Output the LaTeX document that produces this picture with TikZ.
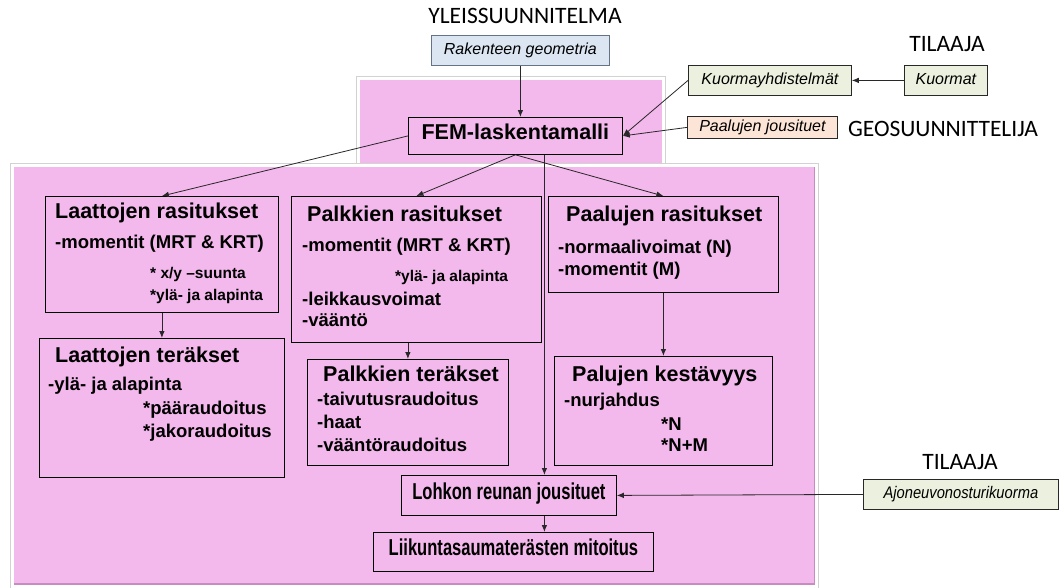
\documentclass[tikz,border=0pt]{standalone}
\usepackage{fontspec}
\usepackage{graphicx}
\setmainfont{Liberation Sans}
\newfontfamily\carlito{Carlito}
\usetikzlibrary{arrows.meta}
\definecolor{pinkbg}{RGB}{243,184,236}
\definecolor{pinkedge}{RGB}{200,140,195}
\definecolor{bluefill}{RGB}{220,230,242}
\definecolor{blueline}{RGB}{100,115,135}
\definecolor{greenfill}{RGB}{235,241,222}
\definecolor{peachfill}{RGB}{252,228,214}
\definecolor{lineclr}{RGB}{40,40,40}
\tikzset{
 box/.style={draw=black, line width=0.8pt, inner sep=0pt, anchor=north west},
 lbl/.style={inner sep=0pt, text height=0.72em, text depth=0pt},
 ttl/.style={lbl, anchor=west, font=\bfseries\fontsize{21.5}{24}\selectfont},
 bdy/.style={lbl, anchor=west, font=\bfseries\fontsize{18.5}{22}\selectfont},
 sml/.style={lbl, anchor=west, font=\bfseries\fontsize{15.5}{18}\selectfont},
 ital/.style={font=\itshape\fontsize{16}{18}\selectfont, text height=0.72em, text depth=0pt},
 hdr/.style={lbl, font=\carlito\fontsize{23.5}{26}\selectfont},
 big/.style={font=\bfseries\fontsize{21.5}{24}\selectfont, text height=0.72em, text depth=0pt},
 narrowbig/.style={font=\bfseries\fontsize{23}{26}\selectfont, text height=0.72em, text depth=0pt},
 arr/.style={draw=lineclr, line width=0.8pt, -{Latex[length=7pt,width=5.5pt]}},
 frame/.style={fill=white, draw=gray!35, line width=1pt},
}
\begin{document}
\begin{tikzpicture}[x=1pt,y=-1pt]
\useasboundingbox (0,0) rectangle (1059,587);
% upper panel
\path[frame] (356.5,76.5) rectangle (665.5,172);
\fill[pinkbg] (360,80) rectangle (662,172);
% lower panel
\path[frame] (10.5,163.5) rectangle (818.5,589);
\fill[pinkbg] (14,167) rectangle (815,585);
\draw[pinkedge, line width=1.5pt] (14,584) -- (815,584);
\draw[pinkedge, line width=1pt] (814,167) -- (814,585);

% headers
\node[hdr] (h1) at (525,20) {YLEISSUUNNITELMA};
\node[hdr] (h2) at (947,48) {TILAAJA};
\node[hdr] (h3) at (943,133) {GEOSUUNNITTELIJA};
\node[hdr] (h4) at (960,466) {TILAAJA};

% coloured input boxes
\node[box, ital, fill=bluefill, draw=blueline, minimum width=178pt, minimum height=30pt] (rak) at (431,35) {Rakenteen geometria};
\node[box, ital, fill=greenfill, draw=lineclr, minimum width=163pt, minimum height=30pt] (kuorm) at (688,65) {Kuormayhdistelmät};
\node[box, ital, fill=greenfill, draw=lineclr, minimum width=83pt, minimum height=30pt] (kuormat) at (904,65) {Kuormat};
\node[box, ital, fill=peachfill, draw=lineclr, minimum width=150pt, minimum height=22pt] (pjous) at (687,116) {Paalujen jousituet};
\node[box, ital, fill=greenfill, draw=lineclr, minimum width=195pt, minimum height=30pt] (ajo) at (863,479) {\scalebox{0.92}[1.05]{Ajoneuvonosturikuorma}};

% main boxes
\node[box, big, minimum width=214pt, minimum height=37pt] (fem) at (408,117) {FEM-laskentamalli};
\node[box, minimum width=233pt, minimum height=116pt] (laR) at (45,196) {};
\node[box, minimum width=245pt, minimum height=139pt] (laT) at (39,338) {};
\node[box, minimum width=250pt, minimum height=146pt] (paR) at (291,196) {};
\node[box, minimum width=201pt, minimum height=106pt] (paT) at (307,359) {};
\node[box, minimum width=230pt, minimum height=96pt] (pjR) at (548,196) {};
\node[box, minimum width=218pt, minimum height=109pt] (pjK) at (554,356) {};
\node[box, narrowbig, minimum width=215pt, minimum height=40pt] (lohk) at (401,475) {\scalebox{0.72}[1]{Lohkon reunan jousituet}};
\node[box, narrowbig, minimum width=280pt, minimum height=39pt] (liik) at (373,532) {\scalebox{0.72}[1]{Liikuntasaumaterästen mitoitus}};

% texts
\node[ttl] (t1) at (55,215) {Laattojen rasitukset};
\node[bdy] (t2) at (55,245) {-momentit (MRT \& KRT)};
\node[sml] (t3) at (150,275) {* x/y –suunta};
\node[sml] (t4) at (150,297) {*ylä- ja alapinta};

\node[ttl] (t5) at (55,359) {Laattojen teräkset};
\node[bdy] (t6) at (48,387) {-ylä- ja alapinta};
\node[bdy] (t7) at (143,411) {*pääraudoitus};
\node[bdy] (t8) at (143,434) {*jakoraudoitus};

\node[ttl] (t9) at (307,218) {Palkkien rasitukset};
\node[bdy] (t10) at (302,248) {-momentit (MRT \& KRT)};
\node[sml] (t11) at (395,278) {*ylä- ja alapinta};
\node[bdy] (t12) at (302,302) {-leikkausvoimat};
\node[bdy] (t13) at (302,323) {-vääntö};

\node[ttl] (t14) at (323,378) {Palkkien teräkset};
\node[bdy] (t15) at (317,402) {-taivutusraudoitus};
\node[bdy] (t16) at (317,425) {-haat};
\node[bdy] (t17) at (317,448) {-vääntöraudoitus};

\node[ttl] (t18) at (566,218) {Paalujen rasitukset};
\node[bdy] (t19) at (558,250) {-normaalivoimat (N)};
\node[bdy] (t20) at (558,272) {-momentit (M)};

\node[ttl] (t21) at (572,378) {Palujen kestävyys};
\node[bdy] (t22) at (564,403) {-nurjahdus};
\node[bdy] (t23) at (661,427) {*N};
\node[bdy] (t24) at (661,448) {*N+M};

% connectors
\draw[arr] (rak.south) -- (rak.south |- fem.north);
\draw[arr] (kuormat.west) -- (kuorm.east);
\draw[arr] (kuorm.west) -- (fem.east);
\draw[arr] (pjous.west) -- (fem.east);
\draw[arr] (fem.west) -- (laR.north);
\draw[arr] (fem.south) -- (paR.north);
\draw[arr] (fem.south) -- (pjR.north);
\coordinate (v) at ([xshift=29pt]fem.south);
\draw[arr] (v) -- (v |- lohk.north);
\draw[arr] (v |- lohk.south) -- (v |- liik.north);
\draw[arr] (laR.south) -- (laT.north);
\draw[arr] (paT.north |- paR.south) -- (paT.north);
\draw[arr] (pjR.south) -- (pjK.north);
\draw[arr] (ajo.west) -- (lohk.east);
\end{tikzpicture}
\end{document}
